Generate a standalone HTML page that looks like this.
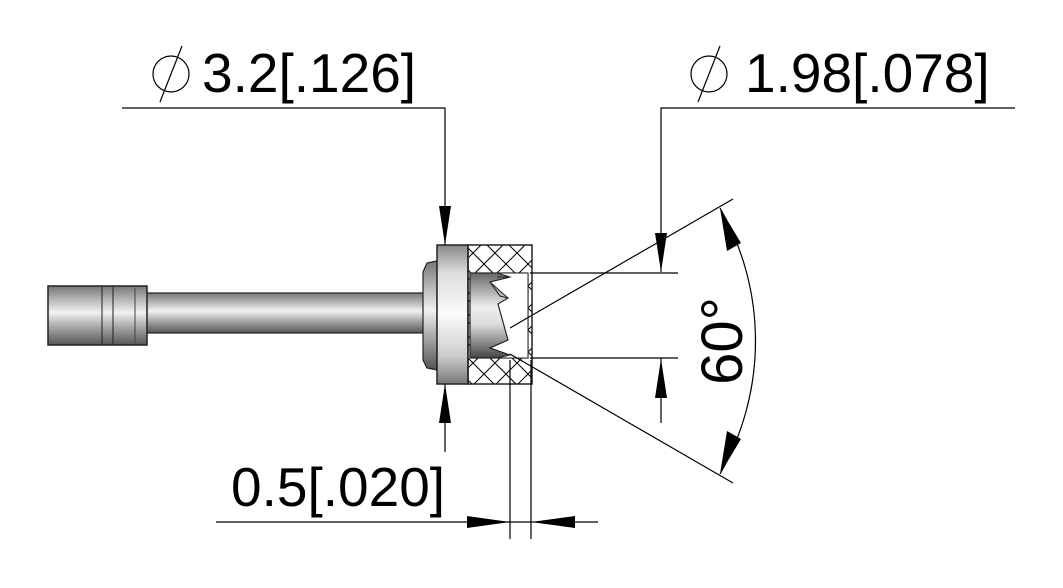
<!DOCTYPE html>
<html><head><style>html,body{margin:0;padding:0;background:#fff}svg{display:block}</style></head>
<body>
<svg width="1063" height="588" viewBox="0 0 1063 588" xmlns="http://www.w3.org/2000/svg" font-family="Liberation Sans, sans-serif">
<defs>
<linearGradient id="cyl" x1="0" y1="0" x2="0" y2="1">
<stop offset="0" stop-color="#777"/><stop offset="0.25" stop-color="#bbb"/><stop offset="0.45" stop-color="#f2f2f2"/><stop offset="0.65" stop-color="#b5b5b5"/><stop offset="1" stop-color="#555"/></linearGradient>
<linearGradient id="fl" x1="0" y1="0" x2="0" y2="1">
<stop offset="0" stop-color="#888"/><stop offset="0.2" stop-color="#ddd"/><stop offset="0.5" stop-color="#fafafa"/><stop offset="0.8" stop-color="#ccc"/><stop offset="1" stop-color="#777"/></linearGradient>
<linearGradient id="bore" x1="0" y1="0" x2="0" y2="1">
<stop offset="0" stop-color="#666"/><stop offset="0.4" stop-color="#eee"/><stop offset="0.6" stop-color="#ddd"/><stop offset="1" stop-color="#444"/></linearGradient>
<pattern id="hatch" width="22" height="22" patternUnits="userSpaceOnUse">
<path d="M0 0L22 22M22 0L0 22" stroke="#000" stroke-width="1"/></pattern>
</defs>
<!-- shaft -->
<rect x="146" y="293" width="280" height="40" fill="url(#cyl)" stroke="#222" stroke-width="1.2"/>
<rect x="48" y="286" width="99" height="59" fill="url(#cyl)" stroke="#222" stroke-width="1.5"/>
<line x1="102" y1="286" x2="102" y2="345" stroke="#222"/>
<line x1="113" y1="286" x2="113" y2="345" stroke="#222"/>
<line x1="135" y1="288" x2="135" y2="343" stroke="#444"/>
<!-- hub -->
<path d="M437 261 L427 263 L423 272 L423 360 L427 368 L437 370 Z" fill="url(#cyl)" stroke="#222" stroke-width="1.2"/>
<!-- flange -->
<rect x="437" y="245" width="31" height="139" fill="url(#fl)" stroke="#222" stroke-width="1.5"/>
<!-- hatched cap -->
<rect x="468" y="245" width="64" height="139" fill="url(#hatch)" stroke="#222" stroke-width="1.5"/>
<rect x="470" y="273" width="58" height="85" fill="url(#bore)" stroke="#222" stroke-width="1.2"/>
<path d="M497 273 L510 277 L490 282 L508 298 L498 304 L508 340 L490 348 L510 355 L497 358 L528 358 L528 273 Z" fill="#fff" stroke="#222" stroke-width="1"/>
<path d="M497 277 L510 277 L490 282 L500 296 L508 298 L498 304 L508 340 L490 348 L510 355" fill="none" stroke="#222"/>
<g stroke="#000" stroke-width="1.2" fill="none">
<!-- 3.2 dim -->
<polyline points="122,108 445,108 445,245"/>
<line x1="445" y1="384" x2="445" y2="452"/>
<!-- 1.98 dim -->
<polyline points="1015,108 661,108 661,272"/>
<line x1="530" y1="273" x2="678" y2="273"/>
<line x1="530" y1="358" x2="678" y2="358"/>
<line x1="661" y1="358" x2="661" y2="423"/>
<!-- 60 deg -->
<line x1="510" y1="328" x2="733" y2="199"/>
<line x1="510" y1="354" x2="733" y2="483"/>
<path d="M720 208 A267 267 0 0 1 720 474"/>
<!-- 0.5 -->
<line x1="216" y1="522" x2="598" y2="522"/>
<line x1="510" y1="360" x2="510" y2="539"/>
<line x1="531" y1="360" x2="531" y2="539"/>
<!-- diameter symbols -->
<circle cx="171" cy="74" r="18"/><line x1="160" y1="102" x2="182" y2="46"/>
<circle cx="709" cy="74" r="18"/><line x1="698" y1="102" x2="720" y2="46"/>
</g>
<g fill="#000">
<polygon points="445,245 439,206 451,206"/>
<polygon points="445,384 439,423 451,423"/>
<polygon points="661,272 655,233 667,233"/>
<polygon points="661,359 655,398 667,398"/>
<polygon points="510,522 467,516 467,528"/>
<polygon points="531,522 575,516 575,528"/>
<polygon points="720,208 727,251 741,243"/>
<polygon points="720,474 727,431 741,439"/>
</g>
<g font-size="55" fill="#000">
<text x="202" y="92">3.2[.126]</text>
<text x="745" y="92">1.98[.078]</text>
<text x="231" y="506">0.5[.020]</text>
<text x="0" y="0" font-size="58" text-anchor="middle" transform="translate(742,341) rotate(-90)">60°</text>
</g>
</svg>
</body></html>
